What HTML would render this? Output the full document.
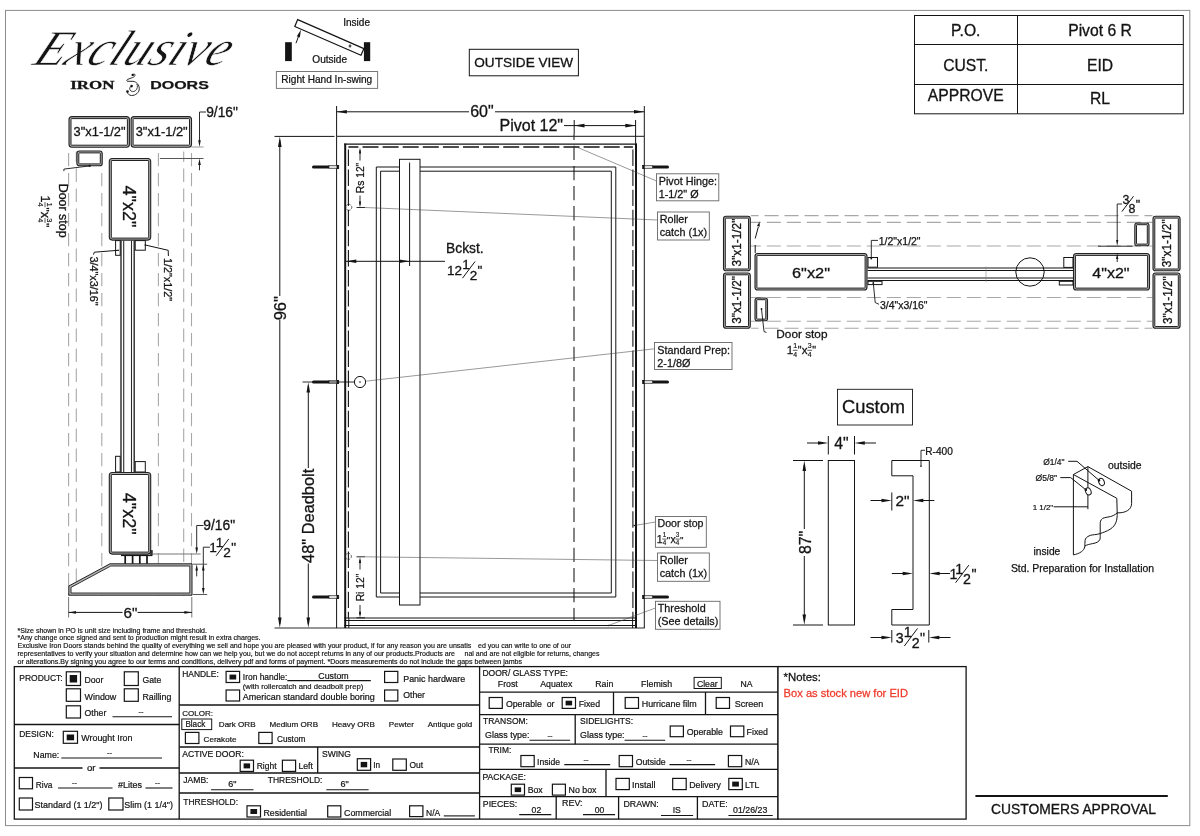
<!DOCTYPE html>
<html lang="en">
<head>
<meta charset="utf-8">
<title>Pivot 6 R - Exclusive Iron Doors shop drawing</title>
<style>
html,body{margin:0;padding:0;background:#fff;}
body{width:1200px;height:836px;overflow:hidden;}
svg{display:block;will-change:transform;}
svg text{font-family:"Liberation Sans",sans-serif;fill:#141414;stroke:#141414;stroke-width:0.3px;}
</style>
</head>
<body>
<svg width="1200" height="836" viewBox="0 0 1200 836">
<rect x="0" y="0" width="1200" height="836" fill="#ffffff"/>
<rect x="5.5" y="10.4" width="1184.3" height="815.2" fill="none" stroke="#8c8c8c" stroke-width="1"/>
<g transform="translate(31 65) skewX(-26)">
<text x="0" y="0" font-size="50" style='font-family:"Liberation Serif","DejaVu Serif",serif;font-style:italic;stroke:#fff;stroke-width:0.6px;' textLength="193" lengthAdjust="spacingAndGlyphs">Exclusive</text>
</g>
<text x="70.2" y="88.9" font-size="11.6" style='font-family:"Liberation Serif","DejaVu Serif",serif;font-weight:bold;stroke-width:0.28px;' textLength="44.2" lengthAdjust="spacingAndGlyphs">IRON</text>
<text x="150.3" y="88.9" font-size="10.6" style='font-family:"Liberation Sans",sans-serif;font-weight:bold;stroke-width:0.25px;' textLength="58.5" lengthAdjust="spacingAndGlyphs">DOORS</text>
<path d="M132.7 74.9 C133.8 73.5 135.6 74.2 134.9 75.7 C134.4 76.9 133 77.4 131 78.1 L127.4 79.5 C126.6 80 126.6 81 127.5 81.3 L133 81.3 C136.5 81.6 139.2 85 139.3 88.5 C139.4 92.6 135.5 95.6 131.5 95.5 C129.3 95.4 127.6 94 127.3 91.8" fill="none" stroke="#141414" stroke-width="0.9"/>
<path d="M131.5 86.1 C129.8 86.6 129.2 88.6 130 90 C131 91.8 133.6 92 135.3 90.8 C137.5 89.2 138 86 136.8 83.8" fill="none" stroke="#141414" stroke-width="0.8"/>
<circle cx="132.7" cy="74.9" r="1.2" fill="#141414"/>
<circle cx="127.5" cy="91.6" r="1.3" fill="#141414"/>
<circle cx="131.6" cy="86.1" r="1.3" fill="#141414"/>
<rect x="285.1" y="42.2" width="6.7" height="18.9" fill="#141414" stroke="none" stroke-width="0"/>
<rect x="363.9" y="42.2" width="6.3" height="18.9" fill="#141414" stroke="none" stroke-width="0"/>
<path d="M297.7 19.6 L294.8 26.5 L361 55.3 L363.9 48.6 Z" fill="#fff" stroke="#141414" stroke-width="1.2"/>
<line x1="348.6" y1="46" x2="351.4" y2="46" stroke="#141414" stroke-width="1"/>
<line x1="350" y1="44.4" x2="350" y2="47.6" stroke="#141414" stroke-width="1"/>
<line x1="296" y1="43.2" x2="299.6" y2="33.5" stroke="#141414" stroke-width="1"/>
<path d="M300.9 29.8 L299.84 37.39 L296.83 36.3 Z" fill="#141414"/>
<text x="343.2" y="26" font-size="10.04" style='stroke-width:0.24px;' textLength="26.8" lengthAdjust="spacingAndGlyphs">Inside</text>
<text x="312.3" y="62.5" font-size="10.1" style='stroke-width:0.24px;' textLength="34.8" lengthAdjust="spacingAndGlyphs">Outside</text>
<rect x="276.4" y="71.5" width="101.2" height="16.9" fill="#fff" stroke="#777" stroke-width="1"/>
<text x="281.3" y="83.2" font-size="10.1" style='stroke-width:0.24px;' textLength="90.9" lengthAdjust="spacingAndGlyphs">Right Hand In-swing</text>
<rect x="469.3" y="49.3" width="109.1" height="26.5" fill="#fff" stroke="#141414" stroke-width="1"/>
<text x="474.3" y="66.6" font-size="13.59" style='stroke-width:0.3px;' textLength="98.9" lengthAdjust="spacingAndGlyphs">OUTSIDE VIEW</text>
<rect x="914.5" y="15.5" width="268.8" height="98.3" fill="#fff" stroke="#141414" stroke-width="1"/>
<line x1="914.5" y1="44.5" x2="1183.3" y2="44.5" stroke="#141414" stroke-width="1"/>
<line x1="914.5" y1="84.5" x2="1183.3" y2="84.5" stroke="#141414" stroke-width="1"/>
<line x1="1017.5" y1="15.5" x2="1017.5" y2="113.8" stroke="#141414" stroke-width="1"/>
<text x="965.8" y="35.8" font-size="15.7" text-anchor="middle" style='stroke-width:0.3px;'>P.O.</text>
<text x="1100" y="35.8" font-size="15.7" text-anchor="middle" style='stroke-width:0.3px;'>Pivot 6 R</text>
<text x="965.8" y="70.5" font-size="15.7" text-anchor="middle" style='stroke-width:0.3px;'>CUST.</text>
<text x="1100" y="70.5" font-size="15.7" text-anchor="middle" style='stroke-width:0.3px;'>EID</text>
<text x="965.8" y="101.3" font-size="15.7" text-anchor="middle" style='stroke-width:0.3px;'>APPROVE</text>
<text x="1100" y="103.8" font-size="15.7" text-anchor="middle" style='stroke-width:0.3px;'>RL</text>
<line x1="68.6" y1="151.5" x2="68.6" y2="596" stroke="#a8a8a8" stroke-width="1.1" stroke-dasharray="13.3 6.7" stroke-dashoffset="18.6"/>
<line x1="76.3" y1="151.5" x2="76.3" y2="596" stroke="#a8a8a8" stroke-width="1.1" stroke-dasharray="13.3 6.7" stroke-dashoffset="2.9"/>
<line x1="101.8" y1="151.5" x2="101.8" y2="596" stroke="#a8a8a8" stroke-width="1.1" stroke-dasharray="13.3 6.7" stroke-dashoffset="18.6"/>
<line x1="158.4" y1="151.5" x2="158.4" y2="596" stroke="#a8a8a8" stroke-width="1.1" stroke-dasharray="13.3 6.7" stroke-dashoffset="18.6"/>
<line x1="183.7" y1="151.5" x2="183.7" y2="596" stroke="#a8a8a8" stroke-width="1.1" stroke-dasharray="13.3 6.7" stroke-dashoffset="2.9"/>
<line x1="191.5" y1="151.5" x2="191.5" y2="596" stroke="#a8a8a8" stroke-width="1.1" stroke-dasharray="13.3 6.7" stroke-dashoffset="18.6"/>
<rect x="69" y="116.6" width="60.4" height="30.6" fill="#b4b4b4" stroke="#222" stroke-width="1.1" rx="3"/>
<rect x="71" y="118.6" width="56.4" height="26.6" fill="#fff" stroke="#222" stroke-width="1" rx="0.6"/>
<rect x="131.1" y="116.6" width="60.4" height="30.6" fill="#b4b4b4" stroke="#222" stroke-width="1.1" rx="3"/>
<rect x="133.1" y="118.6" width="56.4" height="26.6" fill="#fff" stroke="#222" stroke-width="1" rx="0.6"/>
<text x="73.6" y="135.8" font-size="12.85" style='stroke-width:0.3px;' textLength="52" lengthAdjust="spacingAndGlyphs">3"x1-1/2"</text>
<text x="135.7" y="135.8" font-size="12.85" style='stroke-width:0.3px;' textLength="52" lengthAdjust="spacingAndGlyphs">3"x1-1/2"</text>
<text x="206.2" y="117.1" font-size="13.8" style='stroke-width:0.3px;'>9/16"</text>
<path d="M206 112 L199.5 112 L199.5 141" fill="none" stroke="#141414" stroke-width="0.9"/>
<path d="M199.5 147 L198.2 140.2 L200.8 140.2 Z" fill="#141414"/>
<line x1="191.4" y1="147" x2="203.5" y2="147" stroke="#999" stroke-width="1"/>
<line x1="159.9" y1="158.5" x2="203.5" y2="158.5" stroke="#444" stroke-width="0.9"/>
<path d="M199.5 158.5 L200.8 165 L198.2 165 Z" fill="#141414"/>
<line x1="199.5" y1="164" x2="199.5" y2="170.3" stroke="#141414" stroke-width="0.9"/>
<rect x="76.9" y="151" width="25.3" height="14.8" fill="#b4b4b4" stroke="#222" stroke-width="1.1" rx="2.6"/>
<rect x="78.8" y="152.9" width="21.5" height="11" fill="#fff" stroke="#222" stroke-width="1" rx="0.6"/>
<path d="M89.7 165.9 L63.9 169.1 L63.9 171.2" fill="none" stroke="#141414" stroke-width="0.9"/>
<circle cx="89.7" cy="165.9" r="1.1" fill="#141414"/>
<text x="59.1" y="183.7" font-size="12.45" transform="rotate(90 59.1 183.7)" style='stroke-width:0.3px;'>Door stop</text>
<g transform="translate(40.8 196.3) rotate(90)">
<text x="-0.76" y="0" font-size="12.6" style='stroke-width:0.3px;'>1</text>
<text x="6.27" y="-6.43" font-size="7.56" style='stroke-width:0.18px;'>1</text>
<line x1="5.8" y1="-4.22" x2="10.96" y2="-4.22" stroke="#141414" stroke-width="0.7"/>
<text x="6.27" y="2.77" font-size="7.56" style='stroke-width:0.18px;'>4</text>
<text x="11.15" y="0" font-size="11.59" style='stroke-width:0.28px;'>"</text>
<text x="15.56" y="0" font-size="12.6" style='stroke-width:0.3px;'>x</text>
<text x="22.02" y="-6.43" font-size="7.56" style='stroke-width:0.18px;'>3</text>
<line x1="21.55" y1="-4.22" x2="26.71" y2="-4.22" stroke="#141414" stroke-width="0.7"/>
<text x="22.02" y="2.77" font-size="7.56" style='stroke-width:0.18px;'>4</text>
<text x="26.9" y="0" font-size="11.59" style='stroke-width:0.28px;'>"</text>
</g>
<rect x="109.3" y="158.5" width="41.4" height="81.6" fill="#b4b4b4" stroke="#222" stroke-width="1.1" rx="3"/>
<rect x="111.3" y="160.5" width="37.4" height="77.6" fill="#fff" stroke="#222" stroke-width="1" rx="0.6"/>
<text x="122.6" y="206.5" font-size="18" text-anchor="middle" transform="rotate(90 122.6 206.5)" style='stroke-width:0.3px;'>4"x2"</text>
<line x1="121" y1="240.6" x2="121" y2="472" stroke="#2a2a2a" stroke-width="1.4"/>
<line x1="123.7" y1="240.6" x2="123.7" y2="472" stroke="#2a2a2a" stroke-width="1.1"/>
<line x1="131.5" y1="240.6" x2="131.5" y2="472" stroke="#2a2a2a" stroke-width="1.1"/>
<line x1="134.2" y1="240.6" x2="134.2" y2="472" stroke="#2a2a2a" stroke-width="1.4"/>
<rect x="115.6" y="240.6" width="4.6" height="14.7" fill="#fff" stroke="#141414" stroke-width="1"/>
<rect x="135.2" y="240.6" width="10.1" height="9.6" fill="#fff" stroke="#141414" stroke-width="1"/>
<rect x="115.6" y="456.3" width="4.6" height="15.7" fill="#fff" stroke="#141414" stroke-width="1"/>
<rect x="135.2" y="461.6" width="10.1" height="10.4" fill="#fff" stroke="#141414" stroke-width="1"/>
<path d="M118.2 250.3 L94.3 252.2 L93.5 254.6" fill="none" stroke="#141414" stroke-width="1"/>
<circle cx="118.2" cy="250.3" r="0.8" fill="#141414"/>
<text x="89.5" y="256.5" font-size="10.8" transform="rotate(90 89.5 256.5)" style='stroke-width:0.26px;'>3/4"x3/16"</text>
<path d="M145.3 245 L168.2 250.3 L168.4 256" fill="none" stroke="#141414" stroke-width="1"/>
<circle cx="145.3" cy="245" r="0.8" fill="#141414"/>
<text x="164.2" y="258" font-size="10.8" transform="rotate(90 164.2 258)" style='stroke-width:0.26px;'>1/2"x1/2"</text>
<rect x="109.3" y="472.5" width="41.4" height="81.6" fill="#b4b4b4" stroke="#222" stroke-width="1.1" rx="3"/>
<rect x="111.3" y="474.5" width="37.4" height="77.6" fill="#fff" stroke="#222" stroke-width="1" rx="0.6"/>
<text x="122.6" y="513.7" font-size="18" text-anchor="middle" transform="rotate(90 122.6 513.7)" style='stroke-width:0.3px;'>4"x2"</text>
<line x1="121" y1="555.4" x2="152.3" y2="555.4" stroke="#141414" stroke-width="1.4"/>
<rect x="150.6" y="550.4" width="1.8" height="4.8" fill="#333" stroke="#141414" stroke-width="0.5"/>
<line x1="125.2" y1="555" x2="125.2" y2="564.2" stroke="#141414" stroke-width="1.7"/>
<line x1="132.6" y1="555" x2="132.6" y2="564.2" stroke="#141414" stroke-width="1.7"/>
<line x1="139.8" y1="555" x2="139.8" y2="564.2" stroke="#141414" stroke-width="1.7"/>
<line x1="147" y1="555" x2="147" y2="564.2" stroke="#141414" stroke-width="1.7"/>
<path d="M110 563.8 L192 563.8 L192 595.2 L68.8 595.2 L68.8 586 Z" fill="#b4b4b4" stroke="#222" stroke-width="1" stroke-linejoin="round"/>
<path d="M110.8 566 L189.8 566 L189.8 593 L71 593 L71 587.4 Z" fill="#fff" stroke="#222" stroke-width="0.9"/>
<text x="203.3" y="530" font-size="13.8" style='stroke-width:0.3px;'>9/16"</text>
<path d="M203.5 525.5 L196.7 525.5 L196.7 548" fill="none" stroke="#141414" stroke-width="0.9"/>
<path d="M196.7 554 L195.4 547.4 L198 547.4 Z" fill="#141414"/>
<line x1="152.3" y1="554" x2="200.7" y2="554" stroke="#777" stroke-width="1"/>
<path d="M196.7 564.2 L198 570.6 L195.4 570.6 Z" fill="#141414"/>
<line x1="196.7" y1="570" x2="196.7" y2="576.4" stroke="#141414" stroke-width="0.9"/>
<text x="209.32" y="552.4" font-size="13.6" style='stroke-width:0.3px;'>1</text>
<text x="215.72" y="546.96" font-size="13.6" style='stroke-width:0.3px;'>1</text>
<line x1="216.1" y1="555.8" x2="228.79" y2="538.94" stroke="#141414" stroke-width="1"/>
<text x="223.28" y="557.43" font-size="13.6" style='stroke-width:0.3px;'>2</text>
<text x="231.29" y="552.4" font-size="13.6" style='stroke-width:0.3px;'>"</text>
<path d="M209.9 547.2 L203.3 547.2 L203.3 590" fill="none" stroke="#141414" stroke-width="0.9"/>
<path d="M203.3 564.2 L204.6 570.6 L202 570.6 Z" fill="#141414"/>
<path d="M203.3 594.5 L202 588.1 L204.6 588.1 Z" fill="#141414"/>
<line x1="192.8" y1="564.2" x2="207.2" y2="564.2" stroke="#444" stroke-width="0.9"/>
<line x1="192.8" y1="594.5" x2="207.2" y2="594.5" stroke="#444" stroke-width="0.9"/>
<line x1="68.6" y1="597" x2="68.6" y2="617.5" stroke="#666" stroke-width="0.9"/>
<line x1="191.8" y1="597" x2="191.8" y2="617.5" stroke="#666" stroke-width="0.9"/>
<line x1="68.6" y1="612.4" x2="122.5" y2="612.4" stroke="#141414" stroke-width="1"/>
<line x1="137.5" y1="612.4" x2="191.8" y2="612.4" stroke="#141414" stroke-width="1"/>
<path d="M68.6 612.4 L76 611 L76 613.8 Z" fill="#141414"/>
<path d="M191.8 612.4 L184.4 613.8 L184.4 611 Z" fill="#141414"/>
<text x="130.4" y="617.6" font-size="15.2" text-anchor="middle" style='stroke-width:0.3px;'>6"</text>
<line x1="336.6" y1="106" x2="336.6" y2="136.3" stroke="#141414" stroke-width="1"/>
<line x1="644.3" y1="106" x2="644.3" y2="136.3" stroke="#141414" stroke-width="1"/>
<line x1="336.6" y1="111.8" x2="469" y2="111.8" stroke="#141414" stroke-width="1"/>
<line x1="495" y1="111.8" x2="644.3" y2="111.8" stroke="#141414" stroke-width="1"/>
<path d="M336.6 111.8 L346.9 110 L346.9 113.6 Z" fill="#141414"/>
<path d="M644.3 111.8 L634 113.6 L634 110 Z" fill="#141414"/>
<text x="470.2" y="117.2" font-size="16" style='stroke-width:0.3px;'>60"</text>
<text x="499.5" y="131.4" font-size="16" style='stroke-width:0.3px;'>Pivot 12"</text>
<line x1="564" y1="125.6" x2="635.6" y2="125.6" stroke="#141414" stroke-width="1"/>
<line x1="574.2" y1="120" x2="574.2" y2="134" stroke="#141414" stroke-width="1"/>
<line x1="635.6" y1="120" x2="635.6" y2="143.5" stroke="#141414" stroke-width="1"/>
<path d="M574.2 125.6 L584.5 123.8 L584.5 127.4 Z" fill="#141414"/>
<path d="M635.6 125.6 L625.3 127.4 L625.3 123.8 Z" fill="#141414"/>
<path d="M336.6 628 L336.6 136.3 L644.3 136.3 L644.3 628" fill="none" stroke="#141414" stroke-width="1"/>
<line x1="345.2" y1="143.6" x2="345.2" y2="628" stroke="#141414" stroke-width="2"/>
<line x1="636" y1="143.6" x2="636" y2="628" stroke="#141414" stroke-width="2"/>
<line x1="344.2" y1="144.2" x2="637" y2="144.2" stroke="#141414" stroke-width="1.2"/>
<line x1="348.4" y1="147.1" x2="632.9" y2="147.1" stroke="#141414" stroke-width="1.5" stroke-dasharray="16 4.1" stroke-dashoffset="6"/>
<line x1="348.4" y1="147.4" x2="348.4" y2="618" stroke="#141414" stroke-width="1.1" stroke-dasharray="16.4 3.7" stroke-dashoffset="18"/>
<line x1="632.9" y1="147.4" x2="632.9" y2="618" stroke="#141414" stroke-width="1.1" stroke-dasharray="16.4 3.7" stroke-dashoffset="18"/>
<line x1="574" y1="134" x2="574" y2="620.5" stroke="#333" stroke-width="1.2" stroke-dasharray="14.3 5.8" stroke-dashoffset="8.3"/>
<path d="M376.3 167 L615.8 167 L615.8 597 L376.3 597 Z" fill="none" stroke="#141414" stroke-width="1"/>
<path d="M380.6 171.2 L611.3 171.2 L611.3 593 L380.6 593 Z" fill="none" stroke="#141414" stroke-width="1"/>
<rect x="399.5" y="159.3" width="20.5" height="445.7" fill="#fff" stroke="#141414" stroke-width="1"/>
<line x1="409.6" y1="162.5" x2="409.6" y2="266" stroke="#141414" stroke-width="1"/>
<line x1="344.4" y1="618" x2="636.8" y2="618" stroke="#141414" stroke-width="1"/>
<line x1="344.4" y1="620.5" x2="636.8" y2="620.5" stroke="#141414" stroke-width="1"/>
<line x1="344.4" y1="625.5" x2="636.8" y2="625.5" stroke="#141414" stroke-width="1"/>
<line x1="274.5" y1="628" x2="644.7" y2="628" stroke="#141414" stroke-width="0.9"/>
<line x1="348.8" y1="618" x2="348.8" y2="628" stroke="#141414" stroke-width="1"/>
<line x1="632.6" y1="618" x2="632.6" y2="628" stroke="#141414" stroke-width="1"/>
<line x1="313.5" y1="167" x2="329" y2="167" stroke="#141414" stroke-width="3" stroke-linecap="round"/>
<rect x="329" y="165.5" width="9.8" height="3" fill="#ddd" stroke="#222" stroke-width="0.6"/>
<rect x="336.6" y="165" width="2.2" height="4" fill="#141414" stroke="none" stroke-width="0"/>
<line x1="652.5" y1="167" x2="667.5" y2="167" stroke="#141414" stroke-width="3" stroke-linecap="round"/>
<rect x="642.5" y="165.5" width="10" height="3" fill="#ddd" stroke="#222" stroke-width="0.6"/>
<rect x="642.5" y="165" width="2.2" height="4" fill="#141414" stroke="none" stroke-width="0"/>
<line x1="313.5" y1="382" x2="329" y2="382" stroke="#141414" stroke-width="3" stroke-linecap="round"/>
<rect x="329" y="380.5" width="9.8" height="3" fill="#ddd" stroke="#222" stroke-width="0.6"/>
<rect x="336.6" y="380" width="2.2" height="4" fill="#141414" stroke="none" stroke-width="0"/>
<line x1="652.5" y1="382" x2="667.5" y2="382" stroke="#141414" stroke-width="3" stroke-linecap="round"/>
<rect x="642.5" y="380.5" width="10" height="3" fill="#ddd" stroke="#222" stroke-width="0.6"/>
<rect x="642.5" y="380" width="2.2" height="4" fill="#141414" stroke="none" stroke-width="0"/>
<line x1="313.5" y1="597" x2="329" y2="597" stroke="#141414" stroke-width="3" stroke-linecap="round"/>
<rect x="329" y="595.5" width="9.8" height="3" fill="#ddd" stroke="#222" stroke-width="0.6"/>
<rect x="336.6" y="595" width="2.2" height="4" fill="#141414" stroke="none" stroke-width="0"/>
<line x1="652.5" y1="597" x2="667.5" y2="597" stroke="#141414" stroke-width="3" stroke-linecap="round"/>
<rect x="642.5" y="595.5" width="10" height="3" fill="#ddd" stroke="#222" stroke-width="0.6"/>
<rect x="642.5" y="595" width="2.2" height="4" fill="#141414" stroke="none" stroke-width="0"/>
<line x1="274.5" y1="136.4" x2="334.5" y2="136.4" stroke="#141414" stroke-width="1"/>
<line x1="279.8" y1="140" x2="279.8" y2="296" stroke="#141414" stroke-width="1"/>
<line x1="279.8" y1="319.6" x2="279.8" y2="624" stroke="#141414" stroke-width="1"/>
<path d="M279.8 136.6 L281.6 146.9 L278 146.9 Z" fill="#141414"/>
<path d="M279.8 627.8 L278 617.5 L281.6 617.5 Z" fill="#141414"/>
<text x="285.8" y="308.2" font-size="16.5" text-anchor="middle" transform="rotate(-90 285.8 308.2)" style='stroke-width:0.3px;'>96"</text>
<line x1="302.5" y1="382" x2="356" y2="382" stroke="#141414" stroke-width="0.9"/>
<line x1="308.3" y1="386" x2="308.3" y2="468" stroke="#141414" stroke-width="1"/>
<line x1="308.3" y1="563.5" x2="308.3" y2="624" stroke="#141414" stroke-width="1"/>
<path d="M308.3 382.2 L310.1 392.5 L306.5 392.5 Z" fill="#141414"/>
<path d="M308.3 627.8 L306.5 617.5 L310.1 617.5 Z" fill="#141414"/>
<text x="313.6" y="515.8" font-size="16.4" text-anchor="middle" transform="rotate(-90 313.6 515.8)" style='stroke-width:0.3px;'>48" Deadbolt</text>
<circle cx="360" cy="382" r="5.6" fill="#fff" stroke="#141414" stroke-width="1"/>
<circle cx="360" cy="382" r="0.8" fill="#141414"/>
<line x1="360" y1="150" x2="360" y2="160.5" stroke="#141414" stroke-width="0.9"/>
<line x1="360" y1="195.5" x2="360" y2="205" stroke="#141414" stroke-width="0.9"/>
<path d="M360 147.6 L361.1 153.6 L358.9 153.6 Z" fill="#141414"/>
<path d="M360 207.4 L358.9 201.4 L361.1 201.4 Z" fill="#141414"/>
<line x1="356.5" y1="207.5" x2="365" y2="207.5" stroke="#141414" stroke-width="0.9"/>
<text x="363.6" y="178" font-size="10.3" text-anchor="middle" transform="rotate(-90 363.6 178)" style='stroke-width:0.25px;'>Rs 12"</text>
<circle cx="348.8" cy="207.3" r="3" fill="none" stroke="#333" stroke-width="0.8" stroke-dasharray="1.6 1.2"/>
<line x1="360" y1="560" x2="360" y2="569.5" stroke="#141414" stroke-width="0.9"/>
<line x1="360" y1="605" x2="360" y2="615" stroke="#141414" stroke-width="0.9"/>
<path d="M360 556.9 L361.1 562.9 L358.9 562.9 Z" fill="#141414"/>
<path d="M360 617.8 L358.9 611.8 L361.1 611.8 Z" fill="#141414"/>
<line x1="356.5" y1="556.8" x2="365" y2="556.8" stroke="#141414" stroke-width="0.9"/>
<line x1="356.5" y1="617.8" x2="365" y2="617.8" stroke="#141414" stroke-width="0.9"/>
<text x="363.6" y="587.5" font-size="10.3" text-anchor="middle" transform="rotate(-90 363.6 587.5)" style='stroke-width:0.25px;'>Ri 12"</text>
<circle cx="348.4" cy="556.4" r="3" fill="none" stroke="#333" stroke-width="0.8" stroke-dasharray="1.6 1.2"/>
<line x1="346" y1="261.3" x2="445" y2="261.3" stroke="#141414" stroke-width="1"/>
<path d="M346 261.3 L356.3 259.5 L356.3 263.1 Z" fill="#141414"/>
<path d="M409.6 261.3 L399.3 263.1 L399.3 259.5 Z" fill="#141414"/>
<text x="446.1" y="252.6" font-size="13.8" style='stroke-width:0.3px;'>Bckst.</text>
<text x="447" y="274.8" font-size="13.5" style='stroke-width:0.3px;'>12</text>
<text x="462.13" y="269.4" font-size="13.5" style='stroke-width:0.3px;'>1</text>
<line x1="462.5" y1="278.18" x2="475.1" y2="261.44" stroke="#141414" stroke-width="1"/>
<text x="469.63" y="279.8" font-size="13.5" style='stroke-width:0.3px;'>2</text>
<text x="477.58" y="274.8" font-size="13.5" style='stroke-width:0.3px;'>"</text>
<line x1="365" y1="207.5" x2="657.5" y2="220" stroke="#444" stroke-width="0.55"/>
<line x1="574.3" y1="146" x2="656.5" y2="181" stroke="#444" stroke-width="0.55"/>
<line x1="365.6" y1="381.2" x2="654.5" y2="348.8" stroke="#444" stroke-width="0.55"/>
<line x1="365" y1="556.8" x2="657.5" y2="560.5" stroke="#444" stroke-width="0.55"/>
<line x1="634.3" y1="525.5" x2="655.5" y2="522" stroke="#444" stroke-width="0.55"/>
<circle cx="634.3" cy="525.5" r="0.8" fill="#141414"/>
<line x1="608.3" y1="625.5" x2="655.5" y2="608" stroke="#444" stroke-width="0.55"/>
<circle cx="608.3" cy="625.5" r="0.8" fill="#141414"/>
<rect x="656.5" y="173.8" width="62.3" height="27" fill="#fff" stroke="#666" stroke-width="0.9"/>
<text x="658.7" y="185.2" font-size="10.8" style='stroke-width:0.26px;'>Pivot Hinge:</text>
<text x="658.7" y="197.8" font-size="10.8" style='stroke-width:0.26px;'>1-1/2" Ø</text>
<rect x="657.5" y="212" width="51.8" height="28" fill="#fff" stroke="#666" stroke-width="0.9"/>
<text x="659.7" y="222.7" font-size="10.8" style='stroke-width:0.26px;'>Roller</text>
<text x="659.7" y="235.8" font-size="10.8" style='stroke-width:0.26px;'>catch (1x)</text>
<rect x="654.5" y="342.5" width="77.5" height="27" fill="#fff" stroke="#666" stroke-width="0.9"/>
<text x="657.3" y="353.8" font-size="10.8" style='stroke-width:0.26px;'>Standard Prep:</text>
<text x="657.3" y="366.7" font-size="10.8" style='stroke-width:0.26px;'>2-1/8Ø</text>
<rect x="655.4" y="516.5" width="50.9" height="30.8" fill="#fff" stroke="#666" stroke-width="0.9"/>
<text x="657.5" y="526.9" font-size="10.6" style='stroke-width:0.25px;'>Door stop</text>
<text x="656.87" y="542.6" font-size="10.5" style='stroke-width:0.25px;'>1</text>
<text x="662.73" y="537.25" font-size="6.3" style='stroke-width:0.15px;'>1</text>
<line x1="662.33" y1="539.08" x2="666.63" y2="539.08" stroke="#141414" stroke-width="0.7"/>
<text x="662.73" y="544.91" font-size="6.3" style='stroke-width:0.15px;'>4</text>
<text x="666.79" y="542.6" font-size="9.66" style='stroke-width:0.23px;'>"</text>
<text x="670.47" y="542.6" font-size="10.5" style='stroke-width:0.25px;'>x</text>
<text x="675.85" y="537.25" font-size="6.3" style='stroke-width:0.15px;'>3</text>
<line x1="675.46" y1="539.08" x2="679.76" y2="539.08" stroke="#141414" stroke-width="0.7"/>
<text x="675.85" y="544.91" font-size="6.3" style='stroke-width:0.15px;'>4</text>
<text x="679.92" y="542.6" font-size="9.66" style='stroke-width:0.23px;'>"</text>
<rect x="657.5" y="553" width="51.8" height="28.3" fill="#fff" stroke="#666" stroke-width="0.9"/>
<text x="659.7" y="563.8" font-size="10.8" style='stroke-width:0.26px;'>Roller</text>
<text x="659.7" y="577" font-size="10.8" style='stroke-width:0.26px;'>catch (1x)</text>
<rect x="655.5" y="601.3" width="64.5" height="28" fill="#fff" stroke="#666" stroke-width="0.9"/>
<text x="657.7" y="612.2" font-size="10.8" style='stroke-width:0.26px;'>Threshold</text>
<text x="657.7" y="625" font-size="10.8" style='stroke-width:0.26px;'>(See details)</text>
<line x1="751" y1="215.6" x2="1152.5" y2="215.6" stroke="#a8a8a8" stroke-width="1.1" stroke-dasharray="14.1 5.9" stroke-dashoffset="6.5"/>
<line x1="751" y1="222.4" x2="1152.5" y2="222.4" stroke="#a8a8a8" stroke-width="1.1" stroke-dasharray="14.1 5.9" stroke-dashoffset="4.25"/>
<line x1="751" y1="246" x2="1152.5" y2="246" stroke="#a8a8a8" stroke-width="1.1" stroke-dasharray="14.1 5.9" stroke-dashoffset="4.25"/>
<line x1="751" y1="297.5" x2="1152.5" y2="297.5" stroke="#a8a8a8" stroke-width="1.1" stroke-dasharray="14.1 5.9" stroke-dashoffset="4.25"/>
<line x1="751" y1="321.3" x2="1152.5" y2="321.3" stroke="#a8a8a8" stroke-width="1.1" stroke-dasharray="14.1 5.9" stroke-dashoffset="4.25"/>
<line x1="751" y1="328.3" x2="1152.5" y2="328.3" stroke="#a8a8a8" stroke-width="1.1" stroke-dasharray="14.1 5.9" stroke-dashoffset="6.5"/>
<rect x="723.5" y="216.3" width="26.8" height="54.5" fill="#b4b4b4" stroke="#222" stroke-width="1.1" rx="2.6"/>
<rect x="725.3" y="218.1" width="23.2" height="50.9" fill="#fff" stroke="#222" stroke-width="1" rx="0.6"/>
<rect x="723.5" y="273" width="26.8" height="55.3" fill="#b4b4b4" stroke="#222" stroke-width="1.1" rx="2.6"/>
<rect x="725.3" y="274.8" width="23.2" height="51.7" fill="#fff" stroke="#222" stroke-width="1" rx="0.6"/>
<rect x="1153" y="216.3" width="27.1" height="54.5" fill="#b4b4b4" stroke="#222" stroke-width="1.1" rx="2.6"/>
<rect x="1154.8" y="218.1" width="23.5" height="50.9" fill="#fff" stroke="#222" stroke-width="1" rx="0.6"/>
<rect x="1153" y="273" width="27.1" height="55.3" fill="#b4b4b4" stroke="#222" stroke-width="1.1" rx="2.6"/>
<rect x="1154.8" y="274.8" width="23.5" height="51.7" fill="#fff" stroke="#222" stroke-width="1" rx="0.6"/>
<text x="741.3" y="266.4" font-size="13.2" transform="rotate(-90 741.3 266.4)" style='stroke-width:0.3px;' textLength="47.8" lengthAdjust="spacingAndGlyphs">3"x1-1/2"</text>
<text x="741.3" y="323.8" font-size="13.2" transform="rotate(-90 741.3 323.8)" style='stroke-width:0.3px;' textLength="47.8" lengthAdjust="spacingAndGlyphs">3"x1-1/2"</text>
<text x="1171.5" y="267.2" font-size="13.2" transform="rotate(-90 1171.5 267.2)" style='stroke-width:0.3px;' textLength="47.8" lengthAdjust="spacingAndGlyphs">3"x1-1/2"</text>
<text x="1171.5" y="324" font-size="13.2" transform="rotate(-90 1171.5 324)" style='stroke-width:0.3px;' textLength="47.8" lengthAdjust="spacingAndGlyphs">3"x1-1/2"</text>
<line x1="867.5" y1="268" x2="1073" y2="268" stroke="#141414" stroke-width="1"/>
<line x1="867.5" y1="270.5" x2="1073" y2="270.5" stroke="#141414" stroke-width="1"/>
<line x1="867.5" y1="278" x2="1073" y2="278" stroke="#141414" stroke-width="1"/>
<line x1="867.5" y1="280.5" x2="1073" y2="280.5" stroke="#141414" stroke-width="1"/>
<line x1="986" y1="266.5" x2="986" y2="282" stroke="#777" stroke-width="0.5"/>
<rect x="868" y="257.5" width="9.5" height="9.7" fill="#fff" stroke="#141414" stroke-width="1"/>
<rect x="868" y="281.3" width="14" height="3.3" fill="#fff" stroke="#141414" stroke-width="1"/>
<rect x="1063.8" y="257.5" width="9.2" height="9.9" fill="#fff" stroke="#141414" stroke-width="1"/>
<rect x="1059.3" y="281.3" width="13.7" height="3.7" fill="#fff" stroke="#141414" stroke-width="1"/>
<rect x="755" y="253.5" width="112" height="36.5" fill="#b4b4b4" stroke="#222" stroke-width="1.1" rx="2.8"/>
<rect x="756.9" y="255.4" width="108.2" height="32.7" fill="#fff" stroke="#222" stroke-width="1" rx="0.6"/>
<text x="792" y="278" font-size="15" style='stroke-width:0.3px;' textLength="38" lengthAdjust="spacingAndGlyphs">6"x2"</text>
<rect x="1073.5" y="253.5" width="76" height="36.5" fill="#b4b4b4" stroke="#222" stroke-width="1.1" rx="2.8"/>
<rect x="1075.4" y="255.4" width="72.2" height="32.7" fill="#fff" stroke="#222" stroke-width="1" rx="0.6"/>
<text x="1092.3" y="278" font-size="15" style='stroke-width:0.3px;' textLength="37.2" lengthAdjust="spacingAndGlyphs">4"x2"</text>
<circle cx="1030" cy="272" r="14.2" fill="none" stroke="#141414" stroke-width="1"/>
<rect x="755" y="298" width="12.5" height="22.8" fill="#b4b4b4" stroke="#222" stroke-width="1.1" rx="2.4"/>
<rect x="756.7" y="299.7" width="9.1" height="19.4" fill="#fff" stroke="#222" stroke-width="1" rx="0.6"/>
<rect x="1134.8" y="223" width="14.2" height="22.8" fill="#b4b4b4" stroke="#222" stroke-width="1.1" rx="2.4"/>
<rect x="1136.5" y="224.7" width="10.8" height="19.4" fill="#fff" stroke="#222" stroke-width="1" rx="0.6"/>
<path d="M761.5 309 L764 331.5 L766.5 332.5" fill="none" stroke="#141414" stroke-width="0.9"/>
<circle cx="761.5" cy="309" r="0.9" fill="#141414"/>
<text x="776.3" y="337.6" font-size="11.81" style='stroke-width:0.28px;' textLength="51.2" lengthAdjust="spacingAndGlyphs">Door stop</text>
<text x="786.8" y="354.2" font-size="11.6" style='stroke-width:0.28px;'>1</text>
<text x="793.28" y="348.28" font-size="6.96" style='stroke-width:0.17px;'>1</text>
<line x1="792.84" y1="350.31" x2="797.59" y2="350.31" stroke="#141414" stroke-width="0.7"/>
<text x="793.28" y="356.75" font-size="6.96" style='stroke-width:0.17px;'>4</text>
<text x="797.77" y="354.2" font-size="10.67" style='stroke-width:0.26px;'>"</text>
<text x="801.83" y="354.2" font-size="11.6" style='stroke-width:0.28px;'>x</text>
<text x="807.78" y="348.28" font-size="6.96" style='stroke-width:0.17px;'>3</text>
<line x1="807.34" y1="350.31" x2="812.09" y2="350.31" stroke="#141414" stroke-width="0.7"/>
<text x="807.78" y="356.75" font-size="6.96" style='stroke-width:0.17px;'>4</text>
<text x="812.27" y="354.2" font-size="10.67" style='stroke-width:0.26px;'>"</text>
<line x1="755.2" y1="238.5" x2="758.3" y2="227" stroke="#141414" stroke-width="1"/>
<path d="M759.6 221.6 L759.75 226.79 L757.03 226.11 Z" fill="#141414"/>
<line x1="755.2" y1="245" x2="755.2" y2="253" stroke="#141414" stroke-width="1"/>
<text x="878.8" y="244.6" font-size="10.48" style='stroke-width:0.25px;' textLength="41.8" lengthAdjust="spacingAndGlyphs">1/2"x1/2"</text>
<path d="M878 240.4 L871.3 240.4 L871.3 258.5" fill="none" stroke="#141414" stroke-width="0.9"/>
<circle cx="871.3" cy="258.5" r="0.9" fill="#141414"/>
<text x="880" y="308.8" font-size="10.45" style='stroke-width:0.25px;' textLength="47.5" lengthAdjust="spacingAndGlyphs">3/4"x3/16"</text>
<path d="M873.3 283 L875.2 302.5 L879 304.3" fill="none" stroke="#141414" stroke-width="0.9"/>
<circle cx="873.3" cy="283" r="0.9" fill="#141414"/>
<text x="1122.5" y="203.54" font-size="12.4" style='stroke-width:0.3px;'>3</text>
<line x1="1121.9" y1="211.6" x2="1133.53" y2="196.22" stroke="#141414" stroke-width="1"/>
<text x="1128.5" y="213.09" font-size="12.4" style='stroke-width:0.3px;'>8</text>
<text x="1135.81" y="208.5" font-size="12.4" style='stroke-width:0.3px;'>"</text>
<path d="M1122 204 L1117.2 204 L1117.2 240" fill="none" stroke="#141414" stroke-width="0.9"/>
<path d="M1117.2 246.1 L1116.1 240.1 L1118.3 240.1 Z" fill="#141414"/>
<line x1="1098" y1="246.2" x2="1132.5" y2="246.2" stroke="#141414" stroke-width="0.9"/>
<path d="M1117.2 253 L1118.3 259 L1116.1 259 Z" fill="#141414"/>
<line x1="1117.2" y1="258" x2="1117.2" y2="262" stroke="#141414" stroke-width="0.9"/>
<rect x="837.5" y="389.3" width="75" height="35.7" fill="#fff" stroke="#141414" stroke-width="0.9"/>
<text x="873.6" y="413" font-size="18.3" text-anchor="middle" style='stroke-width:0.3px;'>Custom</text>
<line x1="828.3" y1="436" x2="828.3" y2="454.5" stroke="#141414" stroke-width="1"/>
<line x1="854.5" y1="436" x2="854.5" y2="454.5" stroke="#141414" stroke-width="1"/>
<line x1="807" y1="443" x2="822" y2="443" stroke="#141414" stroke-width="1"/>
<line x1="860" y1="443" x2="876" y2="443" stroke="#141414" stroke-width="1"/>
<path d="M828.3 443 L818 444.8 L818 441.2 Z" fill="#141414"/>
<path d="M854.5 443 L864.8 441.2 L864.8 444.8 Z" fill="#141414"/>
<text x="841.5" y="448.8" font-size="15.8" text-anchor="middle" style='stroke-width:0.3px;'>4"</text>
<rect x="828.3" y="460.5" width="26.2" height="164.5" fill="#fff" stroke="#141414" stroke-width="1"/>
<line x1="793" y1="460.5" x2="823" y2="460.5" stroke="#141414" stroke-width="1"/>
<line x1="793" y1="625" x2="823" y2="625" stroke="#141414" stroke-width="1"/>
<line x1="804.3" y1="465" x2="804.3" y2="529" stroke="#141414" stroke-width="1"/>
<line x1="804.3" y1="556" x2="804.3" y2="620" stroke="#141414" stroke-width="1"/>
<path d="M804.3 460.7 L806.1 471 L802.5 471 Z" fill="#141414"/>
<path d="M804.3 624.8 L802.5 614.5 L806.1 614.5 Z" fill="#141414"/>
<text x="810.6" y="542.5" font-size="15.8" text-anchor="middle" transform="rotate(-90 810.6 542.5)" style='stroke-width:0.3px;'>87"</text>
<path d="M891.8 460.5 L929.3 460.5 L929.3 625 L891.8 625 L891.8 609.5 L913 609.5 L913 475.8 L891.8 475.8 Z" fill="none" stroke="#141414" stroke-width="1"/>
<text x="925.3" y="454.6" font-size="10.13" style='stroke-width:0.24px;' textLength="27.6" lengthAdjust="spacingAndGlyphs">R-400</text>
<path d="M925 450.3 L921 450.3 L921 466.3" fill="none" stroke="#141414" stroke-width="0.9"/>
<circle cx="921" cy="466.3" r="0.8" fill="#141414"/>
<line x1="891.8" y1="492.5" x2="891.8" y2="510.5" stroke="#141414" stroke-width="1"/>
<line x1="870.5" y1="500.5" x2="886" y2="500.5" stroke="#141414" stroke-width="1"/>
<path d="M891.8 500.5 L881.5 502.3 L881.5 498.7 Z" fill="#141414"/>
<text x="895.5" y="506" font-size="15.4" style='stroke-width:0.3px;'>2"</text>
<line x1="918" y1="500.5" x2="934.3" y2="500.5" stroke="#141414" stroke-width="1"/>
<path d="M913 500.5 L923.3 498.7 L923.3 502.3 Z" fill="#141414"/>
<line x1="891.8" y1="573.5" x2="907" y2="573.5" stroke="#141414" stroke-width="1"/>
<path d="M913 573.5 L902.7 575.3 L902.7 571.7 Z" fill="#141414"/>
<line x1="935" y1="573.5" x2="950" y2="573.5" stroke="#141414" stroke-width="1"/>
<path d="M929.3 573.5 L939.6 571.7 L939.6 575.3 Z" fill="#141414"/>
<text x="949.5" y="579.2" font-size="14.2" style='stroke-width:0.3px;'>1</text>
<text x="955.15" y="573.52" font-size="14.2" style='stroke-width:0.3px;'>1</text>
<line x1="955.6" y1="582.75" x2="968.82" y2="565.14" stroke="#141414" stroke-width="1"/>
<text x="963.06" y="584.45" font-size="14.2" style='stroke-width:0.3px;'>2</text>
<text x="971.42" y="579.2" font-size="14.2" style='stroke-width:0.3px;'>"</text>
<line x1="891.8" y1="630" x2="891.8" y2="642.5" stroke="#141414" stroke-width="1"/>
<line x1="928.8" y1="630" x2="928.8" y2="642.5" stroke="#141414" stroke-width="1"/>
<line x1="870.5" y1="637.5" x2="886" y2="637.5" stroke="#141414" stroke-width="1"/>
<path d="M891.8 637.5 L881.5 639.3 L881.5 635.7 Z" fill="#141414"/>
<line x1="935" y1="637.5" x2="950.5" y2="637.5" stroke="#141414" stroke-width="1"/>
<path d="M929 637.5 L939.3 635.7 L939.3 639.3 Z" fill="#141414"/>
<text x="895.8" y="642.5" font-size="14.2" style='stroke-width:0.3px;'>3</text>
<text x="903.85" y="636.82" font-size="14.2" style='stroke-width:0.3px;'>1</text>
<line x1="904.3" y1="646.05" x2="917.52" y2="628.44" stroke="#141414" stroke-width="1"/>
<text x="911.76" y="647.75" font-size="14.2" style='stroke-width:0.3px;'>2</text>
<text x="920.12" y="642.5" font-size="14.2" style='stroke-width:0.3px;'>"</text>
<path d="M1073.4 554.9 L1073.4 474.5 L1087.9 466.6 L1131.6 491.2 L1131.6 503.5" fill="none" stroke="#141414" stroke-width="1"/>
<path d="M1131.6 503.5 C1131.6 510 1125 513.2 1117.2 512.8" fill="none" stroke="#141414" stroke-width="1"/>
<path d="M1073.4 474.5 L1116.8 498.3 L1117.2 512.8" fill="none" stroke="#141414" stroke-width="1"/>
<path d="M1117.2 512.8 C1117.4 520 1116 525.5 1110.3 529.1 C1106 531.8 1103 532.5 1100.2 533.5 C1096 535 1093 534.5 1090.2 535.4 C1086.5 536.8 1085.2 538.5 1085.1 540.4 C1084.8 542.5 1085 544 1084.9 546.1 C1084.5 549 1083 550.5 1081.4 551.7 C1079 553.5 1076 554.3 1073.4 554.9" fill="none" stroke="#141414" stroke-width="1"/>
<path d="M1117.2 512.8 C1115 515 1112.5 516 1110.3 516.6 C1107 517.3 1105 517.3 1102.7 518.4 C1100.5 519.8 1100.2 522 1100.2 524.1 L1100.2 533.5 C1100.2 536 1100.3 537.5 1100 539.2 C1099 542 1096 543 1092.7 543.6 C1089.5 544.3 1087 544.6 1084.9 546.1" fill="none" stroke="#141414" stroke-width="1"/>
<line x1="1087.9" y1="466.6" x2="1087.9" y2="509.2" stroke="#141414" stroke-width="1"/>
<line x1="1053.6" y1="506.8" x2="1087.9" y2="506.8" stroke="#141414" stroke-width="1"/>
<ellipse cx="1101.5" cy="482" rx="2.7" ry="3.7" transform="rotate(-22 1101.5 482)" fill="#fff" stroke="#141414" stroke-width="1"/>
<ellipse cx="1088.3" cy="491.4" rx="2.7" ry="3.7" transform="rotate(-22 1088.3 491.4)" fill="#fff" stroke="#141414" stroke-width="1"/>
<path d="M1068.2 461.3 L1077 461.3 L1100 481.2" fill="none" stroke="#141414" stroke-width="1"/>
<path d="M1060.3 477.6 L1070.7 477.6 L1086.8 490.6" fill="none" stroke="#141414" stroke-width="1"/>
<circle cx="1099" cy="480.2" r="1.2" fill="#141414"/>
<circle cx="1085.8" cy="489.8" r="1.2" fill="#141414"/>
<text x="1043.2" y="465.1" font-size="8.44" style='stroke-width:0.2px;' textLength="21.3" lengthAdjust="spacingAndGlyphs">Ø1/4"</text>
<text x="1035.5" y="480.7" font-size="8.56" style='stroke-width:0.21px;' textLength="21.6" lengthAdjust="spacingAndGlyphs">Ø5/8"</text>
<text x="1032.7" y="509.5" font-size="7.95" style='stroke-width:0.19px;' textLength="20.5" lengthAdjust="spacingAndGlyphs">1 1/2"</text>
<text x="1108" y="468.8" font-size="10.39" style='stroke-width:0.25px;' textLength="33.5" lengthAdjust="spacingAndGlyphs">outside</text>
<text x="1033.5" y="555" font-size="10.26" style='stroke-width:0.25px;' textLength="26.8" lengthAdjust="spacingAndGlyphs">inside</text>
<text x="1010.9" y="572" font-size="10.43" style='stroke-width:0.25px;' textLength="143.2" lengthAdjust="spacingAndGlyphs">Std. Preparation for Installation</text>
<text x="17.5" y="632.5" font-size="7.04" style='stroke-width:0.17px;' textLength="189.5" lengthAdjust="spacingAndGlyphs">*Size shown in PO is unit size including frame and threshold.</text>
<text x="17.5" y="640" font-size="7.02" style='stroke-width:0.17px;' textLength="243" lengthAdjust="spacingAndGlyphs">*Any change once signed and sent to production might result in extra charges.</text>
<text x="17.5" y="647.8" font-size="7.05" style='stroke-width:0.17px;' textLength="453.8" lengthAdjust="spacingAndGlyphs">Exclusive Iron Doors stands behind the quality of everything we sell and hope you are pleased with your product, if for any reason you are unsatis</text>
<text x="478" y="647.8" font-size="7.06" style='stroke-width:0.17px;' textLength="93" lengthAdjust="spacingAndGlyphs">ed you can write to one of our</text>
<text x="17.5" y="655.8" font-size="7.04" style='stroke-width:0.17px;' textLength="437.5" lengthAdjust="spacingAndGlyphs">representatives to verify your situation and determine how can we help you, but we do not accept returns in any of our products.Products are</text>
<text x="464.5" y="655.8" font-size="7.02" style='stroke-width:0.17px;' textLength="135" lengthAdjust="spacingAndGlyphs">nal and are not eligible for returns, changes</text>
<text x="17.5" y="664" font-size="7.06" style='stroke-width:0.17px;' textLength="504.5" lengthAdjust="spacingAndGlyphs">or alterations.By signing you agree to our terms and conditions, delivery pdf and forms of payment. *Doors measurements do not include the gaps between jambs</text>
<rect x="14.3" y="666.6" width="763.7" height="152.5" fill="#fff" stroke="#141414" stroke-width="1.3"/>
<rect x="778" y="666.6" width="188.1" height="152.5" fill="#fff" stroke="#141414" stroke-width="1.3"/>
<line x1="179.2" y1="666.6" x2="179.2" y2="819.1" stroke="#141414" stroke-width="1.3"/>
<line x1="479.6" y1="666.6" x2="479.6" y2="819.1" stroke="#141414" stroke-width="1.3"/>
<line x1="14.3" y1="724.5" x2="179.2" y2="724.5" stroke="#141414" stroke-width="1.3"/>
<line x1="14.3" y1="768" x2="82.5" y2="768" stroke="#141414" stroke-width="1.3"/>
<line x1="99.5" y1="768" x2="179.2" y2="768" stroke="#141414" stroke-width="1.3"/>
<text x="87" y="770.6" font-size="9.67" style='stroke-width:0.23px;' textLength="8.6" lengthAdjust="spacingAndGlyphs">or</text>
<text x="19.3" y="681.3" font-size="8.47" style='stroke-width:0.2px;' textLength="43.3" lengthAdjust="spacingAndGlyphs">PRODUCT:</text>
<rect x="66.3" y="671.8" width="14.2" height="13.7" fill="#fff" stroke="#141414" stroke-width="1.2"/>
<rect x="69.7" y="675" width="7.4" height="7.5" fill="#141414" stroke="none" stroke-width="0"/>
<text x="84.5" y="683" font-size="8.67" style='stroke-width:0.21px;' textLength="18.8" lengthAdjust="spacingAndGlyphs">Door</text>
<rect x="124.3" y="671.8" width="14" height="13.7" fill="#fff" stroke="#141414" stroke-width="1.2"/>
<text x="142.5" y="683" font-size="8.67" style='stroke-width:0.21px;' textLength="18.8" lengthAdjust="spacingAndGlyphs">Gate</text>
<rect x="66.3" y="688.8" width="14.2" height="12.5" fill="#fff" stroke="#141414" stroke-width="1.2"/>
<text x="84.5" y="699.5" font-size="8.94" style='stroke-width:0.21px;' textLength="31.8" lengthAdjust="spacingAndGlyphs">Window</text>
<rect x="124.3" y="688.8" width="14" height="12.5" fill="#fff" stroke="#141414" stroke-width="1.2"/>
<text x="142.5" y="699.5" font-size="8.78" style='stroke-width:0.21px;' textLength="28.8" lengthAdjust="spacingAndGlyphs">Railling</text>
<rect x="66.3" y="705.8" width="14.2" height="12.2" fill="#fff" stroke="#141414" stroke-width="1.2"/>
<text x="84.5" y="716.3" font-size="8.72" style='stroke-width:0.21px;' textLength="21.8" lengthAdjust="spacingAndGlyphs">Other</text>
<line x1="112.5" y1="716.8" x2="172" y2="716.8" stroke="#141414" stroke-width="1.1"/>
<text x="138.6" y="713.6" font-size="7.5" style='stroke-width:0.18px;'>--</text>
<text x="19.3" y="736.8" font-size="8.39" style='stroke-width:0.2px;' textLength="34.5" lengthAdjust="spacingAndGlyphs">DESIGN:</text>
<rect x="63.3" y="731.3" width="14.2" height="12" fill="#fff" stroke="#141414" stroke-width="1.2"/>
<rect x="66.7" y="734.5" width="7.4" height="5.8" fill="#141414" stroke="none" stroke-width="0"/>
<text x="81.3" y="740.8" font-size="8.89" style='stroke-width:0.21px;' textLength="51.2" lengthAdjust="spacingAndGlyphs">Wrought Iron</text>
<text x="33.3" y="757.5" font-size="8.83" style='stroke-width:0.21px;' textLength="26" lengthAdjust="spacingAndGlyphs">Name:</text>
<line x1="61.3" y1="758" x2="162" y2="758" stroke="#141414" stroke-width="1.1"/>
<text x="107" y="755" font-size="7.5" style='stroke-width:0.18px;'>--</text>
<rect x="19.3" y="777.5" width="13.2" height="11.3" fill="#fff" stroke="#141414" stroke-width="1.2"/>
<text x="35.8" y="788" font-size="8.35" style='stroke-width:0.2px;' textLength="16.7" lengthAdjust="spacingAndGlyphs">Riva</text>
<line x1="58" y1="788" x2="112.5" y2="788" stroke="#141414" stroke-width="1.1"/>
<text x="72" y="785" font-size="7.5" style='stroke-width:0.18px;'>--</text>
<text x="118" y="788" font-size="8.99" style='stroke-width:0.22px;' textLength="24" lengthAdjust="spacingAndGlyphs">#Lites</text>
<line x1="145.5" y1="788" x2="172.5" y2="788" stroke="#141414" stroke-width="1.1"/>
<text x="155" y="785" font-size="7.5" style='stroke-width:0.18px;'>--</text>
<rect x="19.3" y="798" width="13.2" height="12" fill="#fff" stroke="#141414" stroke-width="1.2"/>
<text x="34.5" y="808" font-size="8.97" style='stroke-width:0.22px;' textLength="68" lengthAdjust="spacingAndGlyphs">Standard (1 1/2")</text>
<rect x="108.8" y="798" width="14.2" height="12" fill="#fff" stroke="#141414" stroke-width="1.2"/>
<text x="124.3" y="808" font-size="8.91" style='stroke-width:0.21px;' textLength="48.7" lengthAdjust="spacingAndGlyphs">Slim (1 1/4")</text>
<line x1="179.2" y1="705" x2="479.6" y2="705" stroke="#141414" stroke-width="1.3"/>
<line x1="179.2" y1="747" x2="479.6" y2="747" stroke="#141414" stroke-width="1.3"/>
<line x1="179.2" y1="773" x2="479.6" y2="773" stroke="#141414" stroke-width="1.3"/>
<line x1="179.2" y1="793" x2="479.6" y2="793" stroke="#141414" stroke-width="1.3"/>
<line x1="317.7" y1="747" x2="317.7" y2="773" stroke="#141414" stroke-width="1.3"/>
<text x="182.2" y="676.8" font-size="8.44" style='stroke-width:0.2px;' textLength="36.6" lengthAdjust="spacingAndGlyphs">HANDLE:</text>
<rect x="226.1" y="671.4" width="13.5" height="11.1" fill="#fff" stroke="#141414" stroke-width="1.2"/>
<rect x="229.5" y="674.6" width="6.7" height="4.9" fill="#141414" stroke="none" stroke-width="0"/>
<text x="242.8" y="680" font-size="8.43" style='stroke-width:0.2px;' textLength="44.5" lengthAdjust="spacingAndGlyphs">Iron handle:</text>
<line x1="287.3" y1="680.6" x2="370.8" y2="680.6" stroke="#141414" stroke-width="1.1"/>
<text x="318.3" y="678.9" font-size="8.82" style='stroke-width:0.21px;' textLength="30.4" lengthAdjust="spacingAndGlyphs">Custom</text>
<text x="242.8" y="689.2" font-size="7.69" style='stroke-width:0.18px;' textLength="120.5" lengthAdjust="spacingAndGlyphs">(with rollercatch and deadbolt prep)</text>
<rect x="226.1" y="690" width="13.5" height="11" fill="#fff" stroke="#141414" stroke-width="1.2"/>
<text x="242.8" y="699.7" font-size="8.96" style='stroke-width:0.22px;' textLength="132" lengthAdjust="spacingAndGlyphs">American standard double boring</text>
<rect x="384.6" y="671.4" width="13.2" height="11.1" fill="#fff" stroke="#141414" stroke-width="1.2"/>
<text x="403.2" y="682.1" font-size="8.92" style='stroke-width:0.21px;' textLength="62" lengthAdjust="spacingAndGlyphs">Panic hardware</text>
<rect x="384.6" y="690" width="13.2" height="11" fill="#fff" stroke="#141414" stroke-width="1.2"/>
<text x="403.2" y="698.2" font-size="8.72" style='stroke-width:0.21px;' textLength="21.8" lengthAdjust="spacingAndGlyphs">Other</text>
<text x="182.2" y="715.7" font-size="8.03" style='stroke-width:0.19px;' textLength="30.8" lengthAdjust="spacingAndGlyphs">COLOR:</text>
<rect x="181.8" y="719" width="29.9" height="10.6" fill="#fff" stroke="#141414" stroke-width="1"/>
<text x="185.4" y="726.6" font-size="8.14" style='stroke-width:0.2px;' textLength="19.9" lengthAdjust="spacingAndGlyphs">Black</text>
<text x="218.8" y="726.6" font-size="8.08" style='stroke-width:0.19px;' textLength="36.8" lengthAdjust="spacingAndGlyphs">Dark ORB</text>
<text x="269.5" y="726.6" font-size="8.1" style='stroke-width:0.19px;' textLength="48.6" lengthAdjust="spacingAndGlyphs">Medium ORB</text>
<text x="332" y="726.6" font-size="8.11" style='stroke-width:0.19px;' textLength="42.8" lengthAdjust="spacingAndGlyphs">Heavy ORB</text>
<text x="388.8" y="726.6" font-size="8.1" style='stroke-width:0.19px;' textLength="25.2" lengthAdjust="spacingAndGlyphs">Pewter</text>
<text x="427.8" y="726.6" font-size="7.97" style='stroke-width:0.19px;' textLength="44.3" lengthAdjust="spacingAndGlyphs">Antique gold</text>
<rect x="185.4" y="732.4" width="13.5" height="11.1" fill="#fff" stroke="#141414" stroke-width="1.2"/>
<text x="203.6" y="741.6" font-size="8.08" style='stroke-width:0.19px;' textLength="32.8" lengthAdjust="spacingAndGlyphs">Cerakote</text>
<rect x="258.8" y="732.4" width="13.3" height="11.1" fill="#fff" stroke="#141414" stroke-width="1.2"/>
<text x="277" y="741.6" font-size="8.21" style='stroke-width:0.2px;' textLength="28.3" lengthAdjust="spacingAndGlyphs">Custom</text>
<text x="182.2" y="756.6" font-size="8.59" style='stroke-width:0.21px;' textLength="61.6" lengthAdjust="spacingAndGlyphs">ACTIVE DOOR:</text>
<rect x="240.2" y="760.2" width="13.3" height="11.2" fill="#fff" stroke="#141414" stroke-width="1.2"/>
<rect x="243.6" y="763.4" width="6.5" height="5" fill="#141414" stroke="none" stroke-width="0"/>
<text x="256.7" y="768.8" font-size="8.52" style='stroke-width:0.2px;' textLength="19.9" lengthAdjust="spacingAndGlyphs">Right</text>
<rect x="282.4" y="760.2" width="13.2" height="11.2" fill="#fff" stroke="#141414" stroke-width="1.2"/>
<text x="298.4" y="768.8" font-size="8.75" style='stroke-width:0.21px;' textLength="14.6" lengthAdjust="spacingAndGlyphs">Left</text>
<text x="322" y="756.6" font-size="8.53" style='stroke-width:0.2px;' textLength="28.9" lengthAdjust="spacingAndGlyphs">SWING</text>
<rect x="357.3" y="758.7" width="13.3" height="11.6" fill="#fff" stroke="#141414" stroke-width="1.2"/>
<rect x="360.7" y="761.9" width="6.5" height="5.4" fill="#141414" stroke="none" stroke-width="0"/>
<text x="373.3" y="768.4" font-size="8.27" style='stroke-width:0.2px;' textLength="6.9" lengthAdjust="spacingAndGlyphs">In</text>
<rect x="392.8" y="759" width="13.5" height="11.3" fill="#fff" stroke="#141414" stroke-width="1.2"/>
<text x="409.5" y="768.4" font-size="8.44" style='stroke-width:0.2px;' textLength="13.6" lengthAdjust="spacingAndGlyphs">Out</text>
<text x="183.3" y="782.7" font-size="8.56" style='stroke-width:0.21px;' textLength="25.2" lengthAdjust="spacingAndGlyphs">JAMB:</text>
<line x1="211.1" y1="789.8" x2="253.5" y2="789.8" stroke="#141414" stroke-width="1.1"/>
<text x="228.2" y="787" font-size="9" style='stroke-width:0.22px;'>6"</text>
<text x="267.8" y="782.7" font-size="8.47" style='stroke-width:0.2px;' textLength="54.6" lengthAdjust="spacingAndGlyphs">THRESHOLD:</text>
<line x1="326.3" y1="789.8" x2="368.6" y2="789.8" stroke="#141414" stroke-width="1.1"/>
<text x="340.6" y="787" font-size="9" style='stroke-width:0.22px;'>6"</text>
<text x="183.3" y="804.5" font-size="8.49" style='stroke-width:0.2px;' textLength="54.7" lengthAdjust="spacingAndGlyphs">THRESHOLD:</text>
<rect x="247" y="805.8" width="13.5" height="11.2" fill="#fff" stroke="#141414" stroke-width="1.2"/>
<rect x="250.4" y="809" width="6.7" height="5" fill="#141414" stroke="none" stroke-width="0"/>
<text x="263.5" y="815.5" font-size="8.79" style='stroke-width:0.21px;' textLength="43.5" lengthAdjust="spacingAndGlyphs">Residential</text>
<rect x="327.7" y="805.8" width="13.1" height="11.2" fill="#fff" stroke="#141414" stroke-width="1.2"/>
<text x="344" y="815.5" font-size="8.83" style='stroke-width:0.21px;' textLength="47.1" lengthAdjust="spacingAndGlyphs">Commercial</text>
<rect x="409.6" y="805.8" width="13.3" height="10.8" fill="#fff" stroke="#141414" stroke-width="1.2"/>
<text x="426.1" y="815.5" font-size="8.46" style='stroke-width:0.2px;' textLength="14.1" lengthAdjust="spacingAndGlyphs">N/A</text>
<line x1="443.8" y1="815.9" x2="474.9" y2="815.9" stroke="#141414" stroke-width="1.1"/>
<line x1="479.6" y1="692.2" x2="778" y2="692.2" stroke="#141414" stroke-width="1.3"/>
<line x1="479.6" y1="714.6" x2="778" y2="714.6" stroke="#141414" stroke-width="1.3"/>
<line x1="479.6" y1="744.2" x2="778" y2="744.2" stroke="#141414" stroke-width="1.3"/>
<line x1="479.6" y1="769.4" x2="778" y2="769.4" stroke="#141414" stroke-width="1.3"/>
<line x1="479.6" y1="796.6" x2="778" y2="796.6" stroke="#141414" stroke-width="1.3"/>
<text x="482.4" y="675.7" font-size="8.53" style='stroke-width:0.2px;' textLength="85.6" lengthAdjust="spacingAndGlyphs">DOOR/ GLASS TYPE:</text>
<text x="497.8" y="686.8" font-size="8.74" style='stroke-width:0.21px;' textLength="19.9" lengthAdjust="spacingAndGlyphs">Frost</text>
<text x="540.2" y="686.8" font-size="8.75" style='stroke-width:0.21px;' textLength="32.1" lengthAdjust="spacingAndGlyphs">Aquatex</text>
<text x="595.3" y="686.8" font-size="8.75" style='stroke-width:0.21px;' textLength="18" lengthAdjust="spacingAndGlyphs">Rain</text>
<text x="641.1" y="686.8" font-size="8.86" style='stroke-width:0.21px;' textLength="31" lengthAdjust="spacingAndGlyphs">Flemish</text>
<rect x="694.1" y="677.4" width="27.2" height="11.1" fill="#fff" stroke="#141414" stroke-width="1"/>
<text x="696.9" y="686.8" font-size="8.7" style='stroke-width:0.21px;' textLength="20.8" lengthAdjust="spacingAndGlyphs">Clear</text>
<text x="740.6" y="686.8" font-size="8.64" style='stroke-width:0.21px;' textLength="12" lengthAdjust="spacingAndGlyphs">NA</text>
<rect x="489.2" y="697.5" width="13.1" height="10.9" fill="#fff" stroke="#141414" stroke-width="1.2"/>
<text x="505.9" y="707.4" font-size="8.75" style='stroke-width:0.21px;' textLength="36" lengthAdjust="spacingAndGlyphs">Operable</text>
<text x="546.7" y="707.4" font-size="8.77" style='stroke-width:0.21px;' textLength="7.8" lengthAdjust="spacingAndGlyphs">or</text>
<rect x="562.2" y="697.5" width="13.3" height="10.9" fill="#fff" stroke="#141414" stroke-width="1.2"/>
<rect x="565.6" y="700.7" width="6.5" height="4.7" fill="#141414" stroke="none" stroke-width="0"/>
<text x="578.7" y="707.4" font-size="8.75" style='stroke-width:0.21px;' textLength="21.4" lengthAdjust="spacingAndGlyphs">Fixed</text>
<line x1="613.5" y1="692.2" x2="613.5" y2="714.6" stroke="#141414" stroke-width="1.3"/>
<rect x="625.2" y="697.5" width="13.3" height="10.9" fill="#fff" stroke="#141414" stroke-width="1.2"/>
<text x="641.7" y="707.2" font-size="8.92" style='stroke-width:0.21px;' textLength="55" lengthAdjust="spacingAndGlyphs">Hurricane film</text>
<line x1="705.5" y1="692.2" x2="705.5" y2="714.6" stroke="#141414" stroke-width="1.3"/>
<rect x="716.2" y="697.5" width="13.3" height="10.9" fill="#fff" stroke="#141414" stroke-width="1.2"/>
<text x="734.8" y="707.2" font-size="8.99" style='stroke-width:0.22px;' textLength="28.5" lengthAdjust="spacingAndGlyphs">Screen</text>
<text x="483" y="724.3" font-size="8.53" style='stroke-width:0.2px;' textLength="45" lengthAdjust="spacingAndGlyphs">TRANSOM:</text>
<text x="485" y="737.8" font-size="8.9" style='stroke-width:0.21px;' textLength="44.5" lengthAdjust="spacingAndGlyphs">Glass type:</text>
<line x1="529.5" y1="740.3" x2="570.1" y2="740.3" stroke="#141414" stroke-width="1.1"/>
<text x="547.5" y="738" font-size="7.5" style='stroke-width:0.18px;'>--</text>
<line x1="575.2" y1="714.6" x2="575.2" y2="744.2" stroke="#141414" stroke-width="1.3"/>
<text x="580.1" y="724.3" font-size="8.52" style='stroke-width:0.2px;' textLength="53" lengthAdjust="spacingAndGlyphs">SIDELIGHTS:</text>
<text x="580.1" y="737.8" font-size="8.9" style='stroke-width:0.21px;' textLength="44.5" lengthAdjust="spacingAndGlyphs">Glass type:</text>
<line x1="624.6" y1="740.3" x2="665.2" y2="740.3" stroke="#141414" stroke-width="1.1"/>
<text x="642.5" y="738" font-size="7.5" style='stroke-width:0.18px;'>--</text>
<rect x="670.2" y="726" width="13.2" height="10.7" fill="#fff" stroke="#141414" stroke-width="1.2"/>
<text x="686.7" y="735" font-size="8.82" style='stroke-width:0.21px;' textLength="36.3" lengthAdjust="spacingAndGlyphs">Operable</text>
<rect x="730.5" y="726" width="13.3" height="10.7" fill="#fff" stroke="#141414" stroke-width="1.2"/>
<text x="746.6" y="735" font-size="8.75" style='stroke-width:0.21px;' textLength="21.4" lengthAdjust="spacingAndGlyphs">Fixed</text>
<text x="488.4" y="753.4" font-size="8.41" style='stroke-width:0.2px;' textLength="22.9" lengthAdjust="spacingAndGlyphs">TRIM:</text>
<rect x="520.9" y="755.5" width="13.3" height="11.2" fill="#fff" stroke="#141414" stroke-width="1.2"/>
<text x="537" y="765" font-size="8.62" style='stroke-width:0.21px;' textLength="23" lengthAdjust="spacingAndGlyphs">Inside</text>
<line x1="564.3" y1="764.6" x2="610.2" y2="764.6" stroke="#141414" stroke-width="1.1"/>
<text x="583.6" y="762" font-size="7.5" style='stroke-width:0.18px;'>--</text>
<rect x="619.2" y="755.5" width="13.3" height="11.2" fill="#fff" stroke="#141414" stroke-width="1.2"/>
<text x="635.7" y="765" font-size="8.7" style='stroke-width:0.21px;' textLength="30" lengthAdjust="spacingAndGlyphs">Outside</text>
<line x1="669.5" y1="764.6" x2="715.1" y2="764.6" stroke="#141414" stroke-width="1.1"/>
<text x="686.5" y="762" font-size="7.5" style='stroke-width:0.18px;'>--</text>
<rect x="728.4" y="755.5" width="13.3" height="11.2" fill="#fff" stroke="#141414" stroke-width="1.2"/>
<text x="744.9" y="765" font-size="8.7" style='stroke-width:0.21px;' textLength="14.5" lengthAdjust="spacingAndGlyphs">N/A</text>
<text x="482.4" y="780" font-size="8.61" style='stroke-width:0.21px;' textLength="43.4" lengthAdjust="spacingAndGlyphs">PACKAGE:</text>
<rect x="511.3" y="784.2" width="13.2" height="10.9" fill="#fff" stroke="#141414" stroke-width="1.2"/>
<rect x="514.7" y="787.4" width="6.4" height="4.7" fill="#141414" stroke="none" stroke-width="0"/>
<text x="527.7" y="793" font-size="8.7" style='stroke-width:0.21px;' textLength="15" lengthAdjust="spacingAndGlyphs">Box</text>
<rect x="552.4" y="784.2" width="13" height="10.9" fill="#fff" stroke="#141414" stroke-width="1.2"/>
<text x="568.6" y="793" font-size="8.81" style='stroke-width:0.21px;' textLength="27.9" lengthAdjust="spacingAndGlyphs">No box</text>
<line x1="606" y1="769.4" x2="606" y2="796.6" stroke="#141414" stroke-width="1.3"/>
<rect x="616" y="778.4" width="13.3" height="11.2" fill="#fff" stroke="#141414" stroke-width="1.2"/>
<text x="632.1" y="787.6" font-size="9" style='stroke-width:0.22px;' textLength="23.5" lengthAdjust="spacingAndGlyphs">Install</text>
<rect x="672.7" y="778.4" width="13.5" height="11.2" fill="#fff" stroke="#141414" stroke-width="1.2"/>
<text x="689.2" y="787.6" font-size="8.78" style='stroke-width:0.21px;' textLength="31.7" lengthAdjust="spacingAndGlyphs">Delivery</text>
<rect x="728.8" y="778.4" width="13.5" height="11.2" fill="#fff" stroke="#141414" stroke-width="1.2"/>
<rect x="732.2" y="781.6" width="6.7" height="5" fill="#141414" stroke="none" stroke-width="0"/>
<text x="745.1" y="787.6" font-size="8.67" style='stroke-width:0.21px;' textLength="14.3" lengthAdjust="spacingAndGlyphs">LTL</text>
<text x="482.8" y="807.3" font-size="8.74" style='stroke-width:0.21px;' textLength="34.5" lengthAdjust="spacingAndGlyphs">PIECES:</text>
<line x1="519.2" y1="814.6" x2="551.3" y2="814.6" stroke="#141414" stroke-width="1.1"/>
<text x="531.6" y="812.7" font-size="8.63" style='stroke-width:0.21px;' textLength="9.6" lengthAdjust="spacingAndGlyphs">02</text>
<line x1="556.2" y1="796.6" x2="556.2" y2="819.1" stroke="#141414" stroke-width="1.3"/>
<text x="562" y="806.3" font-size="8.93" style='stroke-width:0.21px;' textLength="20.5" lengthAdjust="spacingAndGlyphs">REV:</text>
<line x1="583" y1="814.6" x2="615.1" y2="814.6" stroke="#141414" stroke-width="1.1"/>
<text x="594.7" y="812.7" font-size="8.63" style='stroke-width:0.21px;' textLength="9.6" lengthAdjust="spacingAndGlyphs">00</text>
<line x1="618.6" y1="796.6" x2="618.6" y2="819.1" stroke="#141414" stroke-width="1.3"/>
<text x="623.5" y="806.9" font-size="8.79" style='stroke-width:0.21px;' textLength="35.3" lengthAdjust="spacingAndGlyphs">DRAWN:</text>
<line x1="661" y1="815.5" x2="693.1" y2="815.5" stroke="#141414" stroke-width="1.1"/>
<text x="672.7" y="812.7" font-size="8.68" style='stroke-width:0.21px;' textLength="8.2" lengthAdjust="spacingAndGlyphs">IS</text>
<line x1="697.4" y1="796.6" x2="697.4" y2="819.1" stroke="#141414" stroke-width="1.3"/>
<text x="702.1" y="806.9" font-size="8.92" style='stroke-width:0.21px;' textLength="25.6" lengthAdjust="spacingAndGlyphs">DATE:</text>
<line x1="728.4" y1="815.5" x2="772.7" y2="815.5" stroke="#141414" stroke-width="1.1"/>
<text x="733.1" y="812.7" font-size="8.79" style='stroke-width:0.21px;' textLength="34.2" lengthAdjust="spacingAndGlyphs">01/26/23</text>
<text x="783.6" y="681.2" font-size="11.37" style='stroke-width:0.27px;' textLength="37.3" lengthAdjust="spacingAndGlyphs">*Notes:</text>
<text x="783.6" y="697.3" font-size="11.14" style='fill:#ef3b2c;stroke:#ef3b2c;stroke-width:0.27px;' textLength="124.4" lengthAdjust="spacingAndGlyphs">Box as stock new for EID</text>
<line x1="975.4" y1="796" x2="1167.8" y2="796" stroke="#141414" stroke-width="2"/>
<text x="991.1" y="814.2" font-size="13.84" style='stroke-width:0.3px;' textLength="164.9" lengthAdjust="spacingAndGlyphs">CUSTOMERS APPROVAL</text>
</svg>
</body>
</html>
